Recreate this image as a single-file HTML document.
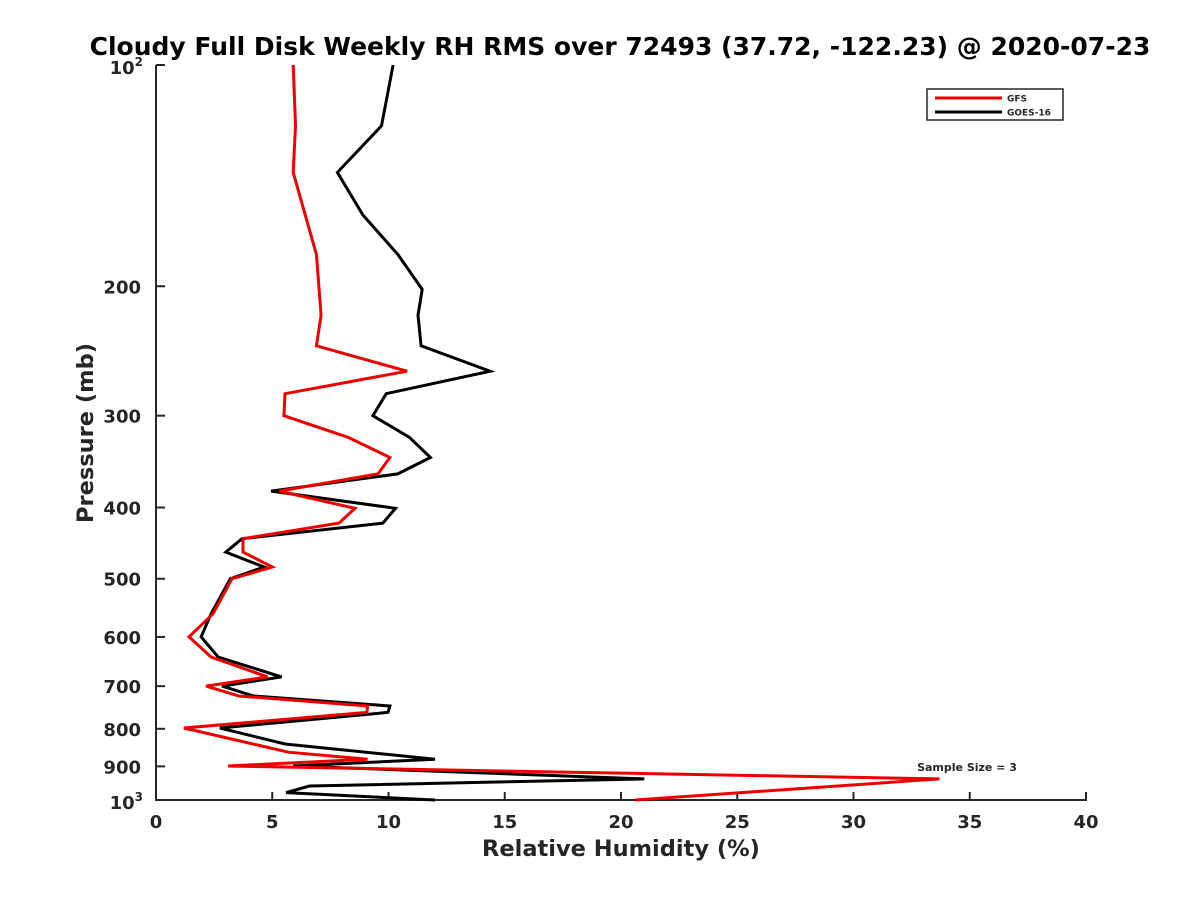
<!DOCTYPE html>
<html><head><meta charset="utf-8"><style>
body{margin:0;background:#fff}
svg text{font-family:"DejaVu Sans","Liberation Sans",sans-serif;font-weight:bold;fill:#262626}
</style></head><body>
<svg id="c" width="1200" height="900"></svg>
<script>
const gfsP=[100,121,140,181,219,241,261,280,300,321,342,360,380,401,420,441,460,482,500,558,600,639,680,700,722,745,760,798,861,880,899,936,1000];
const gfsRH=[5.9,6.0,5.9,6.9,7.1,6.9,10.8,5.55,5.5,8.26,10.06,9.55,5.3,8.56,7.87,3.74,3.74,5.0,3.27,2.45,1.42,2.37,4.8,2.15,3.57,9.1,9.07,1.2,5.7,9.1,3.1,33.7,20.6];
const goesP=[100,121,140,160,181,202,219,241,261,280,300,321,342,360,380,401,420,441,460,482,500,558,600,639,680,700,722,745,760,798,839,880,899,936,957,977,1000];
const goesRH=[10.2,9.7,7.8,8.9,10.4,11.45,11.27,11.4,14.37,9.9,9.33,10.9,11.8,10.4,4.95,10.3,9.76,3.7,3.0,4.65,3.2,2.37,1.94,2.67,5.4,2.84,4.2,10.06,9.98,2.75,5.55,12.0,5.9,21.0,6.6,5.6,12.0];
const xTicks=[0,5,10,15,20,25,30,35,40];
const yTicks=[200,300,400,500,600,700,800,900];
const L=156,R=1086,T=65,B=800;
const X=v=>L+(v/40)*(R-L);
const Y=p=>T+(Math.log10(p)-2)*(B-T);
const svg=document.getElementById('c');const NS='http://www.w3.org/2000/svg';
function mk(t,a,txt){const e=document.createElementNS(NS,t);for(const k in a)e.setAttribute(k,a[k]);if(txt!=null)e.textContent=txt;svg.appendChild(e);return e;}
let e;
e=mk('text',{x:620,y:55,'text-anchor':'middle','font-size':25,style:'fill:#000'},'Cloudy Full Disk Weekly RH RMS over 72493 (37.72, -122.23) @ 2020-07-23');


e=mk('path',{d:`M${L},${T}V${B}H${R}V${B-8}`,stroke:'#262626','stroke-width':2,fill:'none'});


xTicks.forEach(v=>{
 e=mk('line',{x1:X(v),x2:X(v),y1:B,y2:B-8,stroke:'#262626','stroke-width':2});
 
 
 e=mk('text',{x:X(v),y:B+28,'text-anchor':'middle','font-size':18},String(v));
 
 
});
yTicks.concat([100,1000]).forEach(p=>{
 e=mk('line',{x1:L,x2:L+9,y1:Y(p),y2:Y(p),stroke:'#262626','stroke-width':2});
 
 
});
yTicks.forEach(p=>{
 e=mk('text',{x:L-15,y:Y(p)+7,'text-anchor':'end','font-size':18},String(p));
 
 
});
[[100,'2'],[1000,'3']].forEach(([p,s])=>{
 e=mk('text',{x:L-13,y:Y(p)+9,'text-anchor':'end','font-size':18});
 e.innerHTML='10<tspan dy="-8" font-size="12">'+s+'</tspan>';
 
 
});
e=mk('text',{x:621,y:856,'text-anchor':'middle','font-size':22.5},'Relative Humidity (%)');


e=mk('text',{x:0,y:0,'text-anchor':'middle','font-size':22.5,transform:'translate(93,433) rotate(-90)'},'Pressure (mb)');


function line(P,V,c,n){const d=P.map((p,i)=>(i?'L':'M')+X(V[i]).toFixed(1)+','+Y(p).toFixed(1)).join('');
 const el=mk('path',{d,stroke:c,'stroke-width':3,fill:'none','stroke-linejoin':'miter'});
 
 }
line(goesP,goesRH,'#000','goes16-line');
line(gfsP,gfsRH,'#e00','gfs-line');
e=mk('rect',{x:927,y:89,width:136,height:31,fill:'#fff',stroke:'#262626','stroke-width':1.5});


[['GFS','#e00',98],['GOES-16','#000',112]].forEach(([t,c,y])=>{
 e=mk('line',{x1:935,x2:1002,y1:y,y2:y,stroke:c,'stroke-width':3});
 
 
 e=mk('text',{x:1007,y:y+3.5,'font-size':9,fill:'#000'},t);
 
 
});
e=mk('text',{x:967,y:771,'text-anchor':'middle','font-size':11,fill:'#000'},'Sample Size = 3');


</script>
</body></html>
